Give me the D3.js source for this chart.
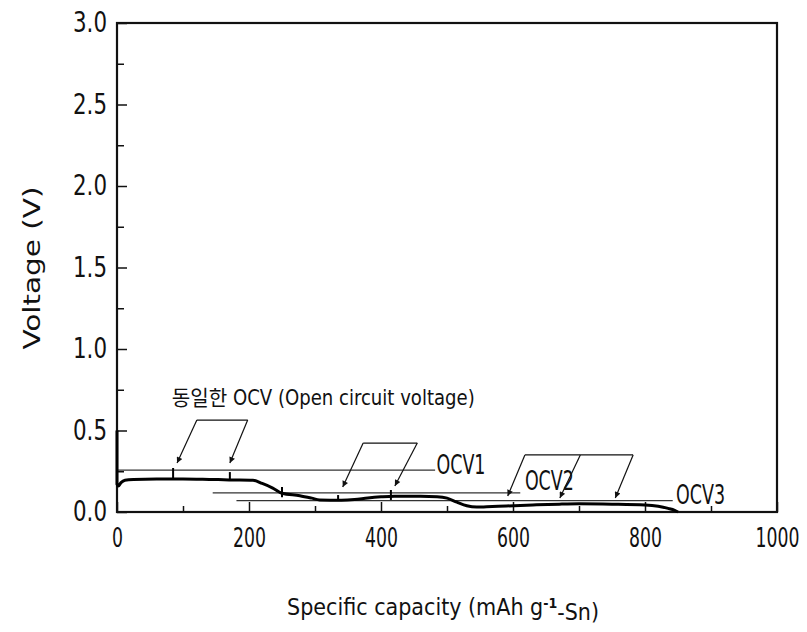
<!DOCTYPE html>
<html>
<head>
<meta charset="utf-8">
<script src="https://cdn.jsdelivr.net/npm/d3@7"></script>
<style>
  body { margin: 0; background: #fff; }
  text { font-family: "DejaVu Sans Condensed", "Liberation Sans Narrow", "DejaVu Sans", "Noto Sans CJK KR", sans-serif; fill: #111; }
</style>
</head>
<body>
<svg id="chart" width="807" height="632"></svg>
<script>
// 방전 곡선 (용량 mAh/g, 전압 V)
const capacity = [0, 0, 2, 6, 12, 25, 60, 100, 140, 170, 206, 220, 236, 250, 277, 295, 307, 340, 360, 380, 400, 420, 460, 485, 500, 515, 530, 545, 560, 590, 630, 670, 700, 750, 800, 820, 835, 845, 850];
const voltage  = [0.50, 0.17, 0.16, 0.18, 0.195, 0.20, 0.203, 0.203, 0.20, 0.197, 0.195, 0.175, 0.147, 0.115, 0.10, 0.085, 0.074, 0.072, 0.076, 0.086, 0.093, 0.097, 0.097, 0.094, 0.085, 0.06, 0.038, 0.03, 0.032, 0.037, 0.043, 0.048, 0.05, 0.048, 0.043, 0.035, 0.022, 0.01, 0];

// OCV 수평선
const ocvNames = ["OCV1", "OCV2", "OCV3"];
const ocvValues = [0.257, 0.117, 0.07];
const ocvStart = [0, 145, 181];
const ocvEnd = [482, 611, 842];
const ocvLabelPos = [[484, 0.288], [618, 0.19], [847, 0.104]];

// 측정 위치 표시 (짧은 세로선)
const markCap = [85, 171, 250, 335, 415];
const markTop = [0.27, 0.245, 0.153, 0.104, 0.135];
const markBottom = [0.2, 0.195, 0.09, 0.072, 0.074];

// 화살표 묶음: 위쪽 가로선 + 화살표 (from -> to)
const bracketLines = [[[121, 0.564], [198, 0.564]], [[373, 0.423], [455, 0.423]], [[618, 0.35], [782, 0.35]]];
const arrows = [
  [[121, 0.564], [91, 0.30]], [[198, 0.564], [171, 0.30]],
  [[373, 0.423], [342, 0.153]], [[455, 0.423], [421, 0.16]],
  [[618, 0.35], [592, 0.098]], [[702, 0.35], [671, 0.086]], [[782, 0.35], [755, 0.086]]
];
const noteText = "동일한 OCV (Open circuit voltage)";
const notePos = [83, 0.70];

const xTicks = [0, 200, 400, 600, 800, 1000];
const yTicks = [0, 0.5, 1.0, 1.5, 2.0, 2.5, 3.0];

const svg = d3.select("#chart");
const x = d3.scaleLinear().domain([0, 1000]).range([117, 777]);
const y = d3.scaleLinear().domain([0, 3]).range([512, 23]);

// 화살촉
svg.append("defs").append("marker")
  .attr("id", "head")
  .attr("viewBox", "0 0 10 10")
  .attr("refX", 10).attr("refY", 5)
  .attr("markerWidth", 9).attr("markerHeight", 6)
  .attr("markerUnits", "userSpaceOnUse")
  .attr("orient", "auto")
  .append("path").attr("d", "M0,0 L10,5 L0,10 z").attr("fill", "#111");

// 보조 눈금
svg.append("g")
  .attr("transform", `translate(0,${y(0)})`)
  .call(d3.axisBottom(x).tickValues(d3.range(100, 1000, 200)).tickSize(-6).tickSizeOuter(0).tickFormat(""))
  .call(g => g.select(".domain").remove())
  .selectAll("line").attr("stroke", "#111").attr("stroke-width", 1.5);

svg.append("g")
  .attr("transform", `translate(${x(0)},0)`)
  .call(d3.axisLeft(y).tickValues(d3.range(0.25, 3, 0.5)).tickSize(-7).tickSizeOuter(0).tickFormat(""))
  .call(g => g.select(".domain").remove())
  .selectAll("line").attr("stroke", "#111").attr("stroke-width", 1.5);

// 주 눈금 + 라벨
const xAxis = svg.append("g")
  .attr("transform", `translate(0,${y(0)})`)
  .call(d3.axisBottom(x).tickValues(xTicks).tickSize(-10).tickSizeOuter(0).tickPadding(16).tickFormat(d3.format("d")));
xAxis.select(".domain").remove();
xAxis.selectAll("line").attr("stroke", "#111").attr("stroke-width", 1.5);
// 좁은 글꼴 흉내: 가로로 눌러서 그림
xAxis.selectAll("text")
  .style("font-size", "27px")
  .attr("transform", function(d) {
    const w = this.getComputedTextLength();
    return `scale(${(String(d).length * 11) / w},1)`;
  });

const yAxis = svg.append("g")
  .attr("transform", `translate(${x(0)},0)`)
  .call(d3.axisLeft(y).tickValues(yTicks).tickSize(-10).tickSizeOuter(0).tickPadding(10).tickFormat(d3.format(".1f")));
yAxis.select(".domain").remove();
yAxis.selectAll("line").attr("stroke", "#111").attr("stroke-width", 1.5);
yAxis.selectAll("text")
  .style("font-size", "28px")
  .attr("textLength", 34)
  .attr("lengthAdjust", "spacingAndGlyphs");

// 테두리
svg.append("rect")
  .attr("x", x(0)).attr("y", y(3))
  .attr("width", x(1000) - x(0)).attr("height", y(0) - y(3))
  .attr("fill", "none").attr("stroke", "#111").attr("stroke-width", 2.2);

// OCV 선
svg.selectAll(".ocv-line")
  .data(ocvValues)
  .join("line")
  .attr("class", "ocv-line")
  .attr("x1", (d, i) => x(ocvStart[i])).attr("x2", (d, i) => x(ocvEnd[i]))
  .attr("y1", d => y(d)).attr("y2", d => y(d))
  .attr("stroke", "#333").attr("stroke-width", 1.2);

// 방전 곡선
const pts = capacity.map((c, i) => [c, voltage[i]]);
svg.append("path")
  .datum(pts)
  .attr("d", d3.line().x(d => x(d[0])).y(d => y(d[1])).curve(d3.curveMonotoneX))
  .attr("fill", "none").attr("stroke", "#000").attr("stroke-width", 3)
  .attr("stroke-linejoin", "round");

// 측정 위치 표시
svg.selectAll(".mark")
  .data(markCap)
  .join("line")
  .attr("class", "mark")
  .attr("x1", d => x(d)).attr("x2", d => x(d))
  .attr("y1", (d, i) => y(markTop[i])).attr("y2", (d, i) => y(markBottom[i]))
  .attr("stroke", "#000").attr("stroke-width", 2);

// 묶음 가로선
svg.selectAll(".bracket")
  .data(bracketLines)
  .join("line")
  .attr("class", "bracket")
  .attr("x1", d => x(d[0][0])).attr("y1", d => y(d[0][1]))
  .attr("x2", d => x(d[1][0])).attr("y2", d => y(d[1][1]))
  .attr("stroke", "#111").attr("stroke-width", 1.2);

// 화살표
svg.selectAll(".arrow")
  .data(arrows)
  .join("line")
  .attr("class", "arrow")
  .attr("x1", d => x(d[0][0])).attr("y1", d => y(d[0][1]))
  .attr("x2", d => x(d[1][0])).attr("y2", d => y(d[1][1]))
  .attr("stroke", "#111").attr("stroke-width", 1.2)
  .attr("marker-end", "url(#head)");

// OCV 라벨
svg.selectAll(".ocv-label")
  .data(ocvNames)
  .join("text")
  .attr("class", "ocv-label")
  .attr("x", (d, i) => x(ocvLabelPos[i][0]))
  .attr("y", (d, i) => y(ocvLabelPos[i][1]))
  .attr("dy", "0.36em")
  .style("font-size", "26px")
  .attr("textLength", 49)
  .attr("lengthAdjust", "spacingAndGlyphs")
  .text(d => d);

// 주석 텍스트
svg.append("text")
  .attr("x", x(notePos[0]))
  .attr("y", y(notePos[1]))
  .attr("dy", "0.36em")
  .style("font-size", "21px")
  .attr("textLength", 303)
  .attr("lengthAdjust", "spacingAndGlyphs")
  .text(noteText);

// 축 제목
svg.append("text")
  .attr("transform", "translate(32,268) rotate(-90)")
  .attr("text-anchor", "middle")
  .attr("dy", "0.36em")
  .style("font-size", "23px")
  .attr("textLength", 163)
  .attr("lengthAdjust", "spacingAndGlyphs")
  .text("Voltage (V)");

const xt = svg.append("text")
  .attr("x", 287)
  .attr("y", 607)
  .attr("dy", "0.36em")
  .style("font-size", "23px");
xt.append("tspan").text("Specific capacity (mAh g");
xt.append("tspan").attr("dy", "-0.55em").style("font-size", "14px").style("font-weight", "bold").text("-1");
xt.append("tspan").attr("dy", "0.55em").text("-Sn)");
</script>
</body>
</html>
